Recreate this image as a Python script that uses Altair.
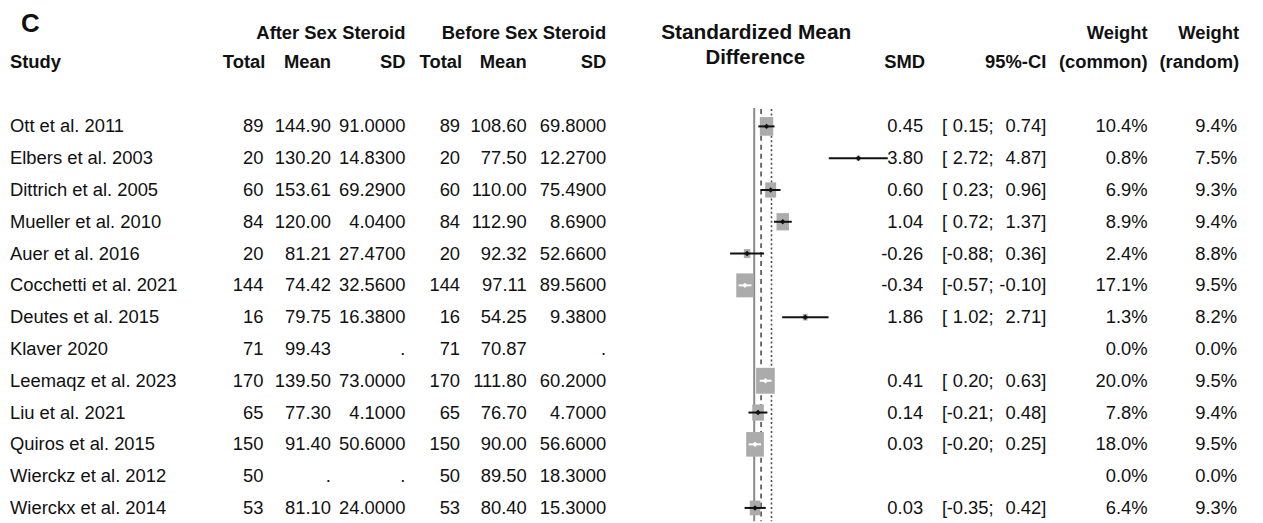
import altair as alt
import pandas as pd

# ---------------- data ----------------
studies = ["Ott et al. 2011", "Elbers et al. 2003", "Dittrich et al. 2005", "Mueller et al. 2010",
           "Auer et al. 2016", "Cocchetti et al. 2021", "Deutes et al. 2015", "Klaver 2020",
           "Leemaqz et al. 2023", "Liu et al. 2021", "Quiros et al. 2015", "Wierckz et al. 2012",
           "Wierckx et al. 2014"]
after_total = [89, 20, 60, 84, 20, 144, 16, 71, 170, 65, 150, 50, 53]
after_mean = [144.90, 130.20, 153.61, 120.00, 81.21, 74.42, 79.75, 99.43, 139.50, 77.30, 91.40, None, 81.10]
after_sd = [91.0, 14.83, 69.29, 4.04, 27.47, 32.56, 16.38, None, 73.0, 4.1, 50.6, None, 24.0]
before_total = [89, 20, 60, 84, 20, 144, 16, 71, 170, 65, 150, 50, 53]
before_mean = [108.60, 77.50, 110.00, 112.90, 92.32, 97.11, 54.25, 70.87, 111.80, 76.70, 90.00, 89.50, 80.40]
before_sd = [69.8, 12.27, 75.49, 8.69, 52.66, 89.56, 9.38, None, 60.2, 4.7, 56.6, 18.3, 15.3]
smd = [0.45, 3.80, 0.60, 1.04, -0.26, -0.34, 1.86, None, 0.41, 0.14, 0.03, None, 0.03]
ci_lo = [0.15, 2.72, 0.23, 0.72, -0.88, -0.57, 1.02, None, 0.20, -0.21, -0.20, None, -0.35]
ci_hi = [0.74, 4.87, 0.96, 1.37, 0.36, -0.10, 2.71, None, 0.63, 0.48, 0.25, None, 0.42]
w_common = [10.4, 0.8, 6.9, 8.9, 2.4, 17.1, 1.3, 0.0, 20.0, 7.8, 18.0, 0.0, 6.4]
w_random = [9.4, 7.5, 9.3, 9.4, 8.8, 9.5, 8.2, 0.0, 9.5, 9.4, 9.5, 0.0, 9.3]
common_est = 0.25   # pooled common-effect estimate (dashed line)
random_est = 0.63   # pooled random-effects estimate (dotted line)


def f(v, d):
    return "." if v is None else f"{v:.{d}f}"


tbl = pd.DataFrame({
    "row": list(range(len(studies))),
    "study": studies,
    "at": [str(v) for v in after_total],
    "am": [f(v, 2) for v in after_mean],
    "asd": [f(v, 4) for v in after_sd],
    "bt": [str(v) for v in before_total],
    "bm": [f(v, 2) for v in before_mean],
    "bsd": [f(v, 4) for v in before_sd],
    "smd_t": ["" if v is None else f"{v:.2f}" for v in smd],
    "lb": ["" if v is None else "[" for v in smd],
    "lo_t": ["" if v is None else f"{v:.2f};" for v in ci_lo],
    "hi_t": ["" if v is None else f"{v:.2f}]" for v in ci_hi],
    "wc_t": [f"{v:.1f}%" for v in w_common],
    "wr_t": [f"{v:.1f}%" for v in w_random],
    "smd": smd, "lo": ci_lo, "hi": ci_hi, "wc": w_common,
})
forest = tbl[tbl["smd"].notna()].copy()

# ---------------- styling ----------------
OFF = 8  # page margin
FONT = "'Liberation Sans', Arial, sans-serif"
FS = 18.5
TXT = "#111111"
PX = 27.6  # pixels per SMD unit
ZERO = 759 - OFF
YS = alt.Scale(domain=[0, 12], range=[125.5 - OFF, 125.5 + 12 * 32 - OFF], nice=False, zero=False)
XS = alt.Scale(domain=[-1, 5], range=[ZERO - PX, ZERO + 5 * PX], nice=False, zero=False)
Y = alt.Y("row:Q", scale=YS, axis=None)
X_SMD = alt.X("smd:Q", scale=XS, axis=None)

layers = []


def col(field, xr, align="right"):
    return alt.Chart(tbl).mark_text(align=align, baseline="middle", font=FONT, fontSize=FS,
                                    color=TXT).encode(
        x=alt.value(xr - OFF), y=Y, text=alt.Text(f"{field}:N"))


layers += [
    col("study", 10, "left"),
    col("at", 265), col("am", 333), col("asd", 408),
    col("bt", 463), col("bm", 530), col("bsd", 610),
    col("smd_t", 929), col("lb", 948, "left"), col("lo_t", 1000), col("hi_t", 1053),
    col("wc_t", 1155), col("wr_t", 1245),
]

# headers
headers = [
    ("C", 21, 22, "left", 26),
    ("After Sex Steroid", 408, 32, "right", FS),
    ("Before Sex Steroid", 610, 32, "right", FS),
    ("Study", 10, 61, "left", FS),
    ("Total", 267, 61, "right", FS),
    ("Mean", 333, 61, "right", FS),
    ("SD", 408, 61, "right", FS),
    ("Total", 465, 61, "right", FS),
    ("Mean", 530, 61, "right", FS),
    ("SD", 610, 61, "right", FS),
    ("Standardized Mean", 761, 32, "center", 21),
    ("Difference", 760, 57, "center", 20.5),
    ("SMD", 931, 61, "right", FS),
    ("95%-CI", 1053, 61, "right", FS),
    ("Weight", 1155, 32, "right", FS),
    ("(common)", 1155, 61, "right", FS),
    ("Weight", 1247, 32, "right", FS),
    ("(random)", 1247, 61, "right", FS),
]
for t, xx, yy, al, sz in headers:
    layers.append(
        alt.Chart(pd.DataFrame({"t": [t]})).mark_text(
            align=al, baseline="middle", font=FONT, fontSize=sz, fontWeight="bold", color=TXT
        ).encode(x=alt.value(xx - OFF), y=alt.value(yy - OFF), text="t:N")
    )

# reference lines
layers.append(alt.Chart(pd.DataFrame({"v": [0.0]})).mark_rule(color="#8a8a8a", strokeWidth=2).encode(
    x=alt.X("v:Q", scale=XS, axis=None), y=alt.value(107 - OFF), y2=alt.value(523 - OFF)))
layers.append(alt.Chart(pd.DataFrame({"v": [common_est]})).mark_rule(
    color="#4d4d4d", strokeWidth=1.6, strokeDash=[5, 4]).encode(
    x=alt.X("v:Q", scale=XS, axis=None), y=alt.value(108 - OFF), y2=alt.value(523 - OFF)))
layers.append(alt.Chart(pd.DataFrame({"v": [random_est]})).mark_rule(
    color="#4d4d4d", strokeWidth=1.6, strokeDash=[2, 2.5]).encode(
    x=alt.X("v:Q", scale=XS, axis=None), y=alt.value(108 - OFF), y2=alt.value(523 - OFF)))

# squares sized by common-effect weight
layers.append(alt.Chart(forest).mark_point(
    shape="M-0.72,-1L0.72,-1L0.72,1L-0.72,1Z", filled=True, opacity=1, color="#ababab", strokeWidth=0
).encode(x=X_SMD, y=Y, size=alt.Size("wc:Q", scale=alt.Scale(domain=[0, 20], range=[0, 680]), legend=None)))

# confidence intervals and point estimates
inside = "datum.wc > 15"
layers.append(alt.Chart(forest).mark_rule(strokeWidth=2).encode(
    x=alt.X("lo:Q", scale=XS, axis=None), x2="hi:Q", y=Y,
    color=alt.condition(inside, alt.value("white"), alt.value("#111111"))))
layers.append(alt.Chart(forest).mark_point(shape="diamond", filled=True, opacity=1, size=30).encode(
    x=X_SMD, y=Y,
    color=alt.condition(inside, alt.value("white"), alt.value("#111111"))))

chart = alt.layer(*layers).properties(
    width=1255, height=515, padding=0, autosize="none", background="white"
).configure_view(stroke=None)

chart.save("out.html", embed_options={"renderer": "svg", "actions": False})
